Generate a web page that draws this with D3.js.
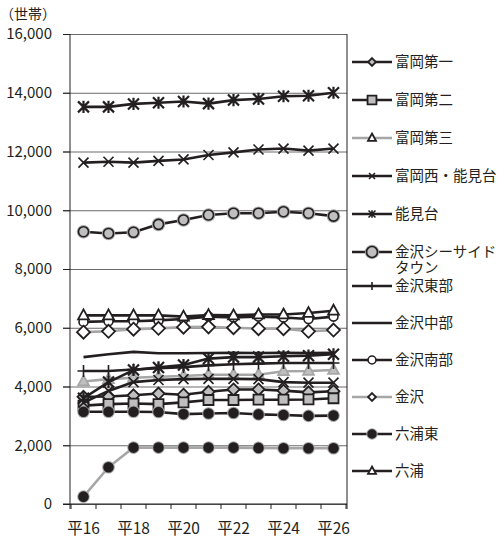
<!DOCTYPE html>
<html><head><meta charset="utf-8">
<script src="https://cdn.jsdelivr.net/npm/d3@7"></script>
<style>body{margin:0;background:#fff}svg{display:block}</style>
</head><body><svg id="c" width="498" height="541"></svg>
<script>
// ---------- data ----------
const categories = ["平16","平17","平18","平19","平20","平21","平22","平23","平24","平25","平26"];
const xTickLabels = ["平16","平18","平20","平22","平24","平26"];
const yTickValues = [0,2000,4000,6000,8000,10000,12000,14000,16000];
const unitLabel = "（世帯）";

const seriesNames = ["富岡第一","富岡第二","富岡第三","富岡西・能見台","能見台","金沢シーサイドタウン",
  "金沢東部","金沢中部","金沢南部","金沢","六浦東","六浦","系列13","系列14","系列15"];
const seasideWrap = ["金沢シーサイド","タウン"];

const tomioka1   = [3650,3660,3700,3760,3720,3820,3900,3900,3860,3800,3840];
const tomioka2   = [3350,3400,3420,3400,3460,3540,3540,3550,3550,3560,3600];
const tomioka3   = [4170,4250,4300,4330,4360,4400,4400,4400,4520,4530,4560];
const tomiokaW   = [11620,11650,11620,11680,11730,11880,11970,12070,12100,12030,12100];
const nokendai   = [13520,13520,13620,13660,13700,13630,13750,13790,13880,13900,14000];
const seaside    = [9270,9210,9250,9520,9670,9840,9900,9900,9950,9900,9800];
const kanazawaE  = [4530,4530,4580,4620,4660,4720,4760,4780,4800,4800,4800];
const kanazawaC  = [5000,5100,5180,5130,5130,5140,5150,5140,5150,5140,5150];
const kanazawaS  = [6200,6220,6220,6250,6300,6380,6350,6380,6350,6300,6380];
const kanazawa   = [5850,5880,5950,5980,6020,6030,6000,5970,5970,5880,5920];
const mutsuuraE  = [3140,3140,3140,3130,3060,3080,3100,3050,3030,3000,3010];
const mutsuura   = [6420,6420,6420,6420,6380,6430,6420,6450,6450,6500,6580];
const extra13    = [3450,3850,4150,4220,4250,4260,4260,4250,4150,4130,4130];
const extra14    = [3600,4150,4560,4650,4730,4950,5000,5000,5030,5050,5100];
const extra15    = [250,1250,1920,1920,1920,1920,1920,1910,1900,1900,1900];

const seriesValues = [tomioka1,tomioka2,tomioka3,tomiokaW,nokendai,seaside,
  kanazawaE,kanazawaC,kanazawaS,kanazawa,mutsuuraE,mutsuura,extra13,extra14,extra15];
const legendCount = 12;

// ---------- styles ----------
const BLK = "#231f20", GRY = "#a6a6a6", GFILL = "#bfbfbf";
const styles = [
  {line:BLK, m:"diamond", s:6,  fill:GFILL, stroke:BLK, ls:4, lfill:GFILL},
  {line:BLK, m:"square",  s:5,  fill:GFILL, stroke:BLK, ls:4.5, lfill:GFILL},
  {line:GRY, m:"triangle",s:6,  fill:GFILL, stroke:GRY, ls:4.5, lfill:"#fff", lstroke:BLK},
  {line:BLK, m:"x",       s:5,  fill:"none",stroke:BLK, ls:3},
  {line:BLK, m:"star",    s:5.5,fill:"none",stroke:BLK, ls:3.5},
  {line:BLK, m:"circle",  s:5,  fill:GFILL, stroke:BLK, halo:GRY, ls:5.5},
  {line:BLK, m:"plus",    s:6,  fill:"none",stroke:BLK, ls:4},
  {line:BLK, m:"none"},
  {line:BLK, m:"circle",  s:4.5,fill:"#fff",stroke:BLK, ls:4},
  {line:GRY, m:"diamond", s:6.5,fill:"#fff",stroke:BLK, ls:4},
  {line:BLK, m:"circle",  s:4.5,fill:BLK,   stroke:BLK, halo:GRY, ls:4},
  {line:BLK, m:"triangle",s:6,  fill:"#fff",stroke:BLK, ls:4.5},
  {line:BLK, m:"x",       s:5,  fill:"none",stroke:BLK},
  {line:BLK, m:"star",    s:5.5,fill:"none",stroke:BLK},
  {line:GRY, m:"circle",  s:4.5,fill:BLK,   stroke:BLK, halo:GRY}
];

// ---------- layout ----------
const svg = d3.select("#c");
const x = d3.scaleBand().domain(categories).range([71,346]);
const cx = c => x(c) + x.bandwidth()/2;
const y = d3.scaleLinear().domain([0,16000]).range([504,34]);
const FONT = "'Noto Sans CJK JP','Noto Sans',sans-serif";

// gridlines
svg.append("g").attr("transform","translate(63,0)")
  .call(d3.axisLeft(y).tickValues(yTickValues).tickSize(-(347-63)).tickFormat(""))
  .call(g=>g.select(".domain").remove())
  .call(g=>g.selectAll("line").attr("stroke","#6a6a6a").attr("stroke-width",1));

// right border
svg.append("line").attr("x1",347).attr("x2",347).attr("y1",y(16000)).attr("y2",509)
  .attr("stroke",BLK).attr("stroke-width",1);

// y axis
const yAx = svg.append("g").attr("transform","translate(70,0)")
  .call(d3.axisLeft(y).tickValues(yTickValues).tickSize(7).tickPadding(11).tickFormat(d3.format(",")));
yAx.select(".domain").remove();
yAx.selectAll("line").attr("stroke",BLK);
yAx.selectAll("text").attr("font-family",FONT).attr("font-size",15).attr("fill",BLK);
svg.append("line").attr("x1",70).attr("x2",70).attr("y1",y(16000)).attr("y2",509).attr("stroke",BLK);

// x axis
const xAx = svg.append("g").attr("transform","translate(0,504)");
xAx.append("line").attr("x1",63).attr("x2",347).attr("stroke",BLK);
xAx.selectAll("line.tk").data(categories.concat(["_end"])).join("line").attr("class","tk")
  .attr("x1",(d,i)=> i<categories.length ? x(d) : x.range()[1])
  .attr("x2",(d,i)=> i<categories.length ? x(d) : x.range()[1])
  .attr("y1",0).attr("y2",5).attr("stroke",BLK);
xAx.selectAll("text").data(xTickLabels).join("text")
  .attr("x",d=>cx(d)).attr("y",30).attr("text-anchor","middle")
  .attr("font-family",FONT).attr("font-size",15.5).attr("fill",BLK).text(d=>d);

// unit label
svg.append("text").attr("x",0).attr("y",19).attr("font-family",FONT).attr("font-size",14)
  .attr("fill",BLK).text(unitLabel);

// marker
function marker(g, st, px, py, sc){
  const s = st.s*sc;
  if(st.m==="none") return;
  const fill = sc<1 && st.lfill ? st.lfill : st.fill;
  const stroke = sc<1 && st.lstroke ? st.lstroke : st.stroke;
  if(st.halo){
    g.append("circle").attr("cx",px).attr("cy",py).attr("r",s+1.8).attr("fill",st.halo);
  }
  let p;
  switch(st.m){
    case "diamond": p=`M${px},${py-s}L${px+s},${py}L${px},${py+s}L${px-s},${py}Z`; break;
    case "square": p=`M${px-s},${py-s}h${2*s}v${2*s}h${-2*s}Z`; break;
    case "triangle": p=`M${px},${py-s}L${px+s*0.9},${py+s*0.65}L${px-s*0.9},${py+s*0.65}Z`; break;
    case "x": p=`M${px-s},${py-s}L${px+s},${py+s}M${px-s},${py+s}L${px+s},${py-s}`; break;
    case "plus": p=`M${px-s},${py}L${px+s},${py}M${px},${py-s}L${px},${py+s}`; break;
    case "star": p=`M${px-s},${py-s}L${px+s},${py+s}M${px-s},${py+s}L${px+s},${py-s}M${px},${py-s*1.1}L${px},${py+s*1.1}`; break;
  }
  if(st.m==="circle"){
    g.append("circle").attr("cx",px).attr("cy",py).attr("r",s).attr("fill",fill)
      .attr("stroke",stroke).attr("stroke-width",1.6);
  } else {
    const open = (st.m==="x"||st.m==="plus"||st.m==="star");
    g.append("path").attr("d",p).attr("fill",open?"none":fill).attr("stroke",stroke)
      .attr("stroke-width", open?(st.m==="star"&&sc>=1?2.2:1.6):1.8);
  }
}

// series
const line = d3.line().x((d,i)=>cx(categories[i])).y(d=>y(d));
const plot = svg.append("g");
seriesValues.forEach((vals,k)=>{
  const st = styles[k];
  const g = plot.append("g");
  g.append("path").attr("d",line(vals)).attr("fill","none").attr("stroke",st.line)
    .attr("stroke-width",2.6).attr("stroke-linejoin","round");
  vals.forEach((v,i)=>marker(g,st,cx(categories[i]),y(v),1));
});

// legend
const lg = svg.append("g");
for(let k=0;k<legendCount;k++){
  const st = styles[k];
  const ly = k<6 ? 62+38*k : 286+37*(k-6);
  lg.append("line").attr("x1",352).attr("x2",392).attr("y1",ly).attr("y2",ly)
    .attr("stroke",st.line).attr("stroke-width",2.6);
  if(st.m!=="none") marker(lg,Object.assign({},st,{s:st.ls}),372,ly,0.99);
  const name = seriesNames[k];
  const lines = name==="金沢シーサイドタウン" ? seasideWrap : [name];
  lines.forEach((t,j)=>{
    lg.append("text").attr("x",395).attr("y",ly + j*16).attr("dy","0.35em")
      .attr("font-family",FONT).attr("font-size",14.5).attr("fill",BLK).text(t);
  });
}
</script></body></html>
